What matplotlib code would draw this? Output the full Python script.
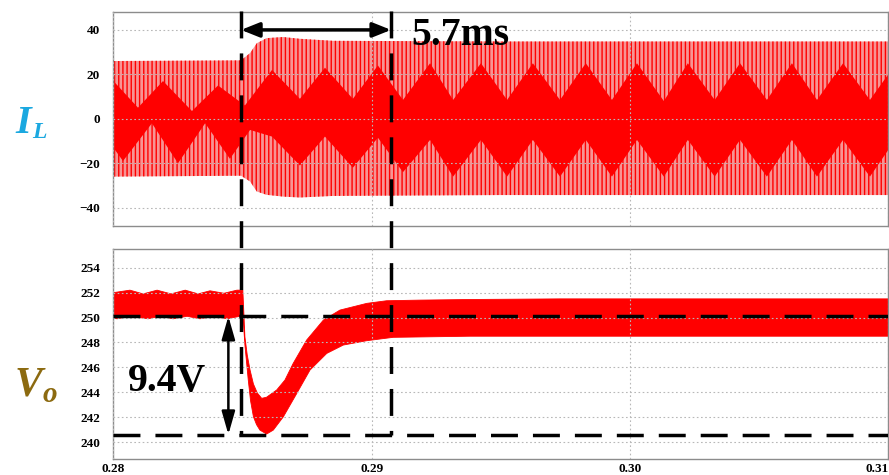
import matplotlib
matplotlib.use("Agg")
import matplotlib.pyplot as plt
from matplotlib.lines import Line2D

# ---------------- data ----------------
# inductor current: outer envelope
t_env = [0.2800, 0.28494, 0.28529, 0.28555, 0.28593, 0.28657, 0.28722, 0.28850, 0.29500, 0.3100]
il_env_hi = [26.0, 26.3, 29.6, 34.0, 36.3, 36.8, 36.0, 35.1, 34.8, 34.8]
il_env_lo = [-26.0, -25.6, -28.2, -32.7, -34.2, -35.0, -35.4, -34.7, -34.3, -34.3]

# inductor current: dense core (upper and lower boundary of the solid band)
core_top_t = [0.2800, 0.28095, 0.28192, 0.28304, 0.28405, 0.28509, 0.28614, 0.28722,
              0.28819, 0.28927, 0.29024, 0.29121, 0.29226, 0.29315, 0.29423, 0.29524,
              0.29624, 0.29729, 0.29829, 0.29930, 0.30027, 0.30131, 0.30224, 0.30328,
              0.30426, 0.30530, 0.30627, 0.30724, 0.30825, 0.30929, 0.3100]
core_top_v = [17, 5, 17, 3.5, 15, 6, 22, 9, 23, 9, 24, 8.5,
              25, 8.5, 25, 8.5, 25, 8.5, 25, 8.5, 25, 8, 25, 8.5,
              25, 8.5, 25, 8.5, 25, 8.5, 20]
core_bot_t = [0.2800, 0.28037, 0.28149, 0.28250, 0.28355, 0.28451, 0.28529, 0.28614,
              0.28722, 0.28819, 0.28927, 0.29024, 0.29121, 0.29226, 0.29315, 0.29423,
              0.29524, 0.29624, 0.29729, 0.29829, 0.29930, 0.30027, 0.30131, 0.30224,
              0.30328, 0.30426, 0.30530, 0.30627, 0.30724, 0.30825, 0.30929, 0.3100]
core_bot_v = [-13, -19, -2, -20, -2, -18, -5, -8,
              -21, -8, -22, -8.5, -24, -9.5, -26, -9.5,
              -26, -9.5, -26, -9.5, -26, -9.5, -26, -9.5,
              -26, -9.5, -26, -9.5, -26, -9.5, -26, -14]

# output voltage ripple band: upper edge and lower edge
vo_hi_t = [0.2800, 0.28064, 0.28115, 0.28169, 0.28223, 0.28278, 0.28328, 0.28374, 0.28428,
           0.28478, 0.28501, 0.28509, 0.28518, 0.28529, 0.28542, 0.28557, 0.28574, 0.28593,
           0.28632, 0.28664, 0.28696, 0.28748, 0.28813, 0.28877, 0.28981, 0.29058, 0.29187,
           0.29381, 0.29729, 0.30271, 0.3100]
vo_hi = [252.0, 252.2, 251.9, 252.2, 251.9, 252.2, 251.9, 252.15, 251.95,
         252.2, 252.2, 248.46, 247.0, 245.78, 244.66, 243.94, 243.51, 243.6,
         244.18, 244.98, 246.32, 248.19, 249.8, 250.6, 251.14, 251.35, 251.4,
         251.45, 251.5, 251.5, 251.5]
vo_lo_t = [0.2800, 0.28014, 0.28064, 0.28134, 0.28181, 0.28231, 0.28285, 0.28335, 0.28386,
           0.28440, 0.28490, 0.28501, 0.28509, 0.28522, 0.28531, 0.28542, 0.28554, 0.28567,
           0.28593, 0.28619, 0.28658, 0.28710, 0.28761, 0.28826, 0.28890, 0.28981, 0.29083,
           0.29381, 0.29729, 0.30271, 0.3100]
vo_lo = [249.95, 249.9, 250.1, 249.9, 250.1, 249.9, 250.1, 249.9, 250.1,
         249.9, 250.1, 250.3, 247.8, 244.98, 243.3, 242.03, 241.4, 240.96,
         240.64, 240.96, 242.03, 243.91, 245.78, 247.12, 247.79, 248.14, 248.41,
         248.5, 248.5, 248.5, 248.5]

# annotation values
T_STEP = 0.28494
T_SETTLE = 0.29075
T_ARROW = 0.28445
V_REF = 250.1
V_MIN = 240.6

x_ticks = [0.28, 0.29, 0.30, 0.31]
x_tick_labels = ["0.28", "0.29", "0.30", "0.31"]
il_ticks = [-40, -20, 0, 20, 40]
vo_ticks = [240, 242, 244, 246, 248, 250, 252, 254]

# ---------------- style ----------------
plt.rcParams["font.family"] = ["Liberation Serif", "DejaVu Serif"]
plt.rcParams["font.weight"] = "bold"
plt.rcParams["hatch.linewidth"] = 1.0
plt.rcParams["lines.scale_dashes"] = False
plt.rcParams["axes.unicode_minus"] = True

RED = "#FF0000"
PINK = "#F79494"
SPINE = "#8C8C8C"
GRID = "#B8B8B8"

fig = plt.figure(figsize=(8.89, 4.75), dpi=100)
ax1 = fig.add_axes([0.1276, 0.5248, 0.8716, 0.4506])
ax2 = fig.add_axes([0.1276, 0.0343, 0.8716, 0.4408])

# top: inductor current
ax1.fill_between(t_env, il_env_lo, il_env_hi, facecolor=PINK, edgecolor=RED,
                 linewidth=0, hatch="||||", zorder=1)
ax1.fill(core_top_t + core_bot_t[::-1], core_top_v + core_bot_v[::-1],
         color=RED, linewidth=0, zorder=1.5)
ax1.set_ylim(-48.1, 48.2)
ax1.set_yticks(il_ticks)
ax1.set_xticks(x_ticks)
ax1.set_xticklabels([])

# bottom: output voltage
ax2.fill(vo_hi_t + vo_lo_t[::-1], vo_hi + vo_lo[::-1], color=RED, linewidth=0.6,
         edgecolor=RED, zorder=1)
ax2.set_ylim(238.66, 255.48)
ax2.set_yticks(vo_ticks)
ax2.set_xticks(x_ticks)
ax2.set_xticklabels(x_tick_labels)

for ax in (ax1, ax2):
    ax.set_xlim(0.28, 0.31)
    ax.set_axisbelow(False)
    ax.grid(True, color=GRID, linestyle=(0, (1.2, 1.8)), linewidth=0.8)
    ax.tick_params(length=0, labelsize=9.5, pad=9.5)
    for s in ax.spines.values():
        s.set_color(SPINE)
        s.set_linewidth(1.0)
ax2.tick_params(axis="x", pad=3)
ax2.get_xticklabels()[-1].set_horizontalalignment("right")

# horizontal dashed reference lines
dash = (0, (19.4, 10.8))
for v in (V_REF, V_MIN):
    ax2.plot([0.28, 0.31], [v, v], color="black", lw=2.5, linestyle=dash, zorder=5,
             dash_capstyle="butt")

# vertical dashed lines spanning both panels
inv = fig.transFigure.inverted()
for t in (T_STEP, T_SETTLE):
    xf, yf = inv.transform(ax2.transData.transform((t, V_MIN)))
    fig.add_artist(Line2D([xf, xf], [1.0, yf], transform=fig.transFigure, color="black",
                          lw=2.5, linestyle=(22.3, (19.4, 10.8)), zorder=6,
                          dash_capstyle="butt"))

# arrows
ax1.annotate("", xy=(T_STEP, 40), xytext=(T_SETTLE, 40),
             arrowprops=dict(arrowstyle="<|-|>,head_length=0.55,head_width=0.22",
                             mutation_scale=20, lw=2.5, color="black",
                             shrinkA=0, shrinkB=0),
             annotation_clip=False, zorder=7)
ax2.annotate("", xy=(T_ARROW, V_MIN), xytext=(T_ARROW, V_REF),
             arrowprops=dict(arrowstyle="<|-|>,head_length=0.7,head_width=0.2",
                             mutation_scale=20, lw=1.8, color="black",
                             shrinkA=0, shrinkB=0),
             annotation_clip=False, zorder=7)

# texts
fig.text(411 / 889, 1 - 45 / 475, "5.7ms", fontsize=28.5, fontweight="bold",
         ha="left", va="baseline")
fig.text(127.7 / 889, 1 - 391 / 475, "9.4V", fontsize=28.5, fontweight="bold",
         ha="left", va="baseline")

IL_COLOR = "#1BA8E0"
VO_COLOR = "#8C6A10"
fig.text(15 / 889, 1 - 133 / 475, "I", fontsize=29, fontweight="bold", style="italic",
         color=IL_COLOR, ha="left", va="baseline")
fig.text(32 / 889, 1 - 138 / 475, "L", fontsize=17, fontweight="bold", style="italic",
         color=IL_COLOR, ha="left", va="baseline")
fig.text(15 / 889, 1 - 395 / 475, "V", fontsize=30, fontweight="bold", style="italic",
         color=VO_COLOR, ha="left", va="baseline")
fig.text(43 / 889, 1 - 401.7 / 475, "o", fontsize=21, fontweight="bold", style="italic",
         color=VO_COLOR, ha="left", va="baseline")

fig.savefig("out.png", dpi=100)
